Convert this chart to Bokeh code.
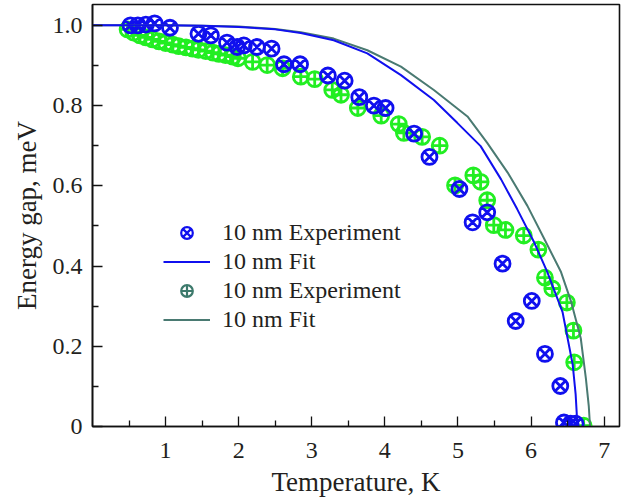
from bokeh.plotting import figure
from bokeh.models import Legend, LegendItem, FixedTicker
from bokeh.embed import file_html
from bokeh.resources import INLINE

# ---- data ----
blue_T = [0.52, 0.62, 0.73, 0.85, 1.06, 1.45, 1.62, 1.84, 1.98, 2.07, 2.25, 2.45, 2.62,
          2.84, 3.22, 3.45, 3.65, 3.85, 4.01, 4.40, 4.61, 5.02, 5.20, 5.40, 5.61, 5.79,
          6.01, 6.19, 6.40, 6.45, 6.54, 6.61]
blue_E = [1.0, 1.0, 1.002, 1.005, 0.994, 0.979, 0.975, 0.957, 0.946, 0.950, 0.946, 0.942,
          0.903, 0.903, 0.875, 0.862, 0.821, 0.800, 0.794, 0.730, 0.672, 0.592, 0.509,
          0.534, 0.406, 0.263, 0.313, 0.181, 0.101, 0.010, 0.007, 0.007]

green_T = [0.48, 0.56, 0.65, 0.73, 0.82, 0.91, 1.00, 1.10, 1.18, 1.28, 1.37, 1.45, 1.55,
           1.65, 1.73, 1.82, 1.92, 1.99, 2.19, 2.39, 2.60, 2.85, 3.04, 3.28, 3.40, 3.63,
           3.95, 4.19, 4.26, 4.51, 4.75, 4.96, 5.21, 5.31, 5.40, 5.49, 5.65, 5.90, 6.10,
           6.19, 6.29, 6.49, 6.58, 6.59, 6.72]
green_E = [0.990, 0.982, 0.975, 0.970, 0.965, 0.960, 0.956, 0.952, 0.948, 0.945, 0.942,
           0.939, 0.936, 0.932, 0.929, 0.926, 0.922, 0.918, 0.909, 0.901, 0.893, 0.872,
           0.866, 0.839, 0.827, 0.794, 0.775, 0.754, 0.732, 0.722, 0.700, 0.601, 0.626,
           0.610, 0.564, 0.502, 0.490, 0.476, 0.441, 0.371, 0.344, 0.309, 0.239, 0.160,
           0.002]

fit1_T = [0.0, 0.5, 1.0, 1.5, 2.0, 2.5, 2.85, 3.3, 3.76, 4.22, 4.67, 4.99, 5.31, 5.59,
          5.81, 6.04, 6.22, 6.43, 6.57, 6.61, 6.635]
fit1_E = [1.0, 1.0, 1.0, 0.999, 0.996, 0.99, 0.981, 0.963, 0.930, 0.876, 0.814, 0.757,
          0.699, 0.616, 0.542, 0.460, 0.386, 0.286, 0.154, 0.08, 0.0]

fit2_T = [0.0, 0.5, 1.0, 1.5, 2.0, 2.5, 2.85, 3.3, 3.76, 4.22, 4.67, 5.13, 5.40, 5.68,
          5.95, 6.18, 6.41, 6.55, 6.68, 6.75, 6.79, 6.807]
fit2_E = [1.0, 1.0, 1.0, 0.999, 0.997, 0.991, 0.983, 0.967, 0.938, 0.897, 0.839, 0.773,
          0.707, 0.633, 0.550, 0.468, 0.385, 0.31, 0.22, 0.12, 0.05, 0.0]

x_ticks = [1, 2, 3, 4, 5, 6, 7]
x_minor = [0.5, 1.5, 2.5, 3.5, 4.5, 5.5, 6.5]
y_ticks = [0, 0.2, 0.4, 0.6, 0.8, 1.0]
y_minor = [0.1, 0.3, 0.5, 0.7, 0.9]
y_labels = {0: "0", 0.2: "0.2", 0.4: "0.4", 0.6: "0.6", 0.8: "0.8", 1.0: "1.0"}
legend_labels = ["10 nm Experiment", "10 nm Fit", "10 nm Experiment", "10 nm Fit"]

BLUE = "#1010ee"
GREEN = "#22ee22"
TEAL = "#4a7a72"
TEAL_MK = "#3d7a6c"
FONT = "Liberation Serif"
TXT = "#231f20"

p = figure(width=627, height=499, x_range=(0, 7.21), y_range=(0, 1.052),
           output_backend="svg", toolbar_location=None,
           min_border_left=92, min_border_right=8, min_border_top=4, min_border_bottom=70)
p.grid.visible = False
p.outline_line_color = "#111111"
p.outline_line_width = 1.6
p.background_fill_color = "white"

for ax in (p.xaxis[0], p.yaxis[0]):
    ax.axis_line_width = 1.6
    ax.axis_line_color = "#111111"
    ax.major_tick_in = 10
    ax.major_tick_out = 0
    ax.minor_tick_in = 6
    ax.minor_tick_out = 0
    ax.major_tick_line_width = 1.3
    ax.minor_tick_line_width = 1.3
    ax.major_tick_line_color = "#111111"
    ax.minor_tick_line_color = "#111111"
    ax.major_label_text_font = FONT
    ax.major_label_text_font_size = "24px"
    ax.major_label_text_color = TXT
    ax.axis_label_text_font = FONT
    ax.axis_label_text_font_size = "27px"
    ax.axis_label_text_font_style = "normal"
    ax.axis_label_text_color = TXT

p.xaxis.ticker = FixedTicker(ticks=x_ticks, minor_ticks=x_minor)
p.yaxis.ticker = FixedTicker(ticks=y_ticks, minor_ticks=y_minor)
p.yaxis.major_label_overrides = y_labels
p.xaxis.major_label_standoff = 16
p.yaxis.major_label_standoff = 10
p.xaxis.axis_label = "Temperature, K"
p.yaxis.axis_label = "Energy gap, meV"
p.xaxis.axis_label_standoff = 6
p.yaxis.axis_label_standoff = 8

g = p.scatter(green_T, green_E, marker="circle_cross", size=15, fill_color=None,
              line_color=GREEN, line_width=2.8)
b = p.scatter(blue_T, blue_E, marker="circle_x", size=15, fill_color=None,
              line_color=BLUE, line_width=2.8)
l2 = p.line(fit2_T, fit2_E, line_color=TEAL, line_width=2)
l1 = p.line(fit1_T, fit1_E, line_color=BLUE, line_width=2)
# legend-only markers (placed outside the visible range)
lg_b = p.scatter(x=[-1], y=[-1], marker="circle_x", size=15, fill_color=None,
                 line_color=BLUE, line_width=2.2)
lg_g = p.scatter(x=[-1], y=[-1], marker="circle_cross", size=15, fill_color=None,
                 line_color=TEAL_MK, line_width=2.2)

legend = Legend(items=[LegendItem(label=legend_labels[0], renderers=[lg_b]),
                       LegendItem(label=legend_labels[1], renderers=[l1]),
                       LegendItem(label=legend_labels[2], renderers=[lg_g]),
                       LegendItem(label=legend_labels[3], renderers=[l2])],
                location=(71, 92), padding=0, margin=0, spacing=0,
                glyph_width=47, glyph_height=29, label_height=29, label_standoff=12,
                label_text_font=FONT, label_text_font_size="24px", label_text_color=TXT,
                border_line_color=None, background_fill_alpha=0)
p.add_layout(legend)

open("out.html", "w").write(file_html(p, INLINE))
